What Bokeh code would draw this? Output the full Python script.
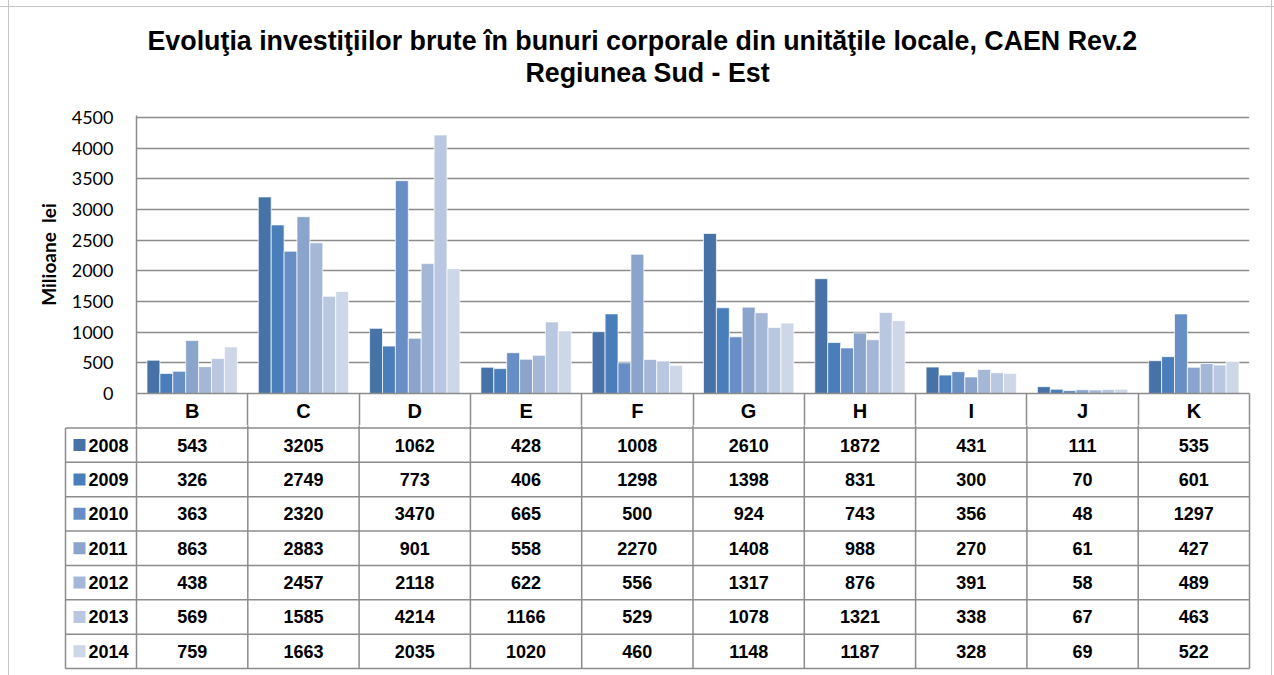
from bokeh.plotting import figure
from bokeh.models import Range1d, FixedTicker, Title, ColumnDataSource
from bokeh.core.properties import value
from bokeh.embed import file_html
from bokeh.resources import INLINE

# ---------------- data ----------------
categories = ["B", "C", "D", "E", "F", "G", "H", "I", "J", "K"]
years = ["2008", "2009", "2010", "2011", "2012", "2013", "2014"]
v2008 = [543, 3205, 1062, 428, 1008, 2610, 1872, 431, 111, 535]
v2009 = [326, 2749, 773, 406, 1298, 1398, 831, 300, 70, 601]
v2010 = [363, 2320, 3470, 665, 500, 924, 743, 356, 48, 1297]
v2011 = [863, 2883, 901, 558, 2270, 1408, 988, 270, 61, 427]
v2012 = [438, 2457, 2118, 622, 556, 1317, 876, 391, 58, 489]
v2013 = [569, 1585, 4214, 1166, 529, 1078, 1321, 338, 67, 463]
v2014 = [759, 1663, 2035, 1020, 460, 1148, 1187, 328, 69, 522]
series = [v2008, v2009, v2010, v2011, v2012, v2013, v2014]
y_ticks = [0, 500, 1000, 1500, 2000, 2500, 3000, 3500, 4000, 4500]
y_max = 4500
colors = ["#4672a8", "#4a7ebb", "#678fc5", "#8aa4cc", "#a5b7d7", "#bac7e0", "#cdd7e8"]

title_line1 = "Evoluţia investiţiilor brute în bunuri corporale din unităţile locale, CAEN Rev.2"
title_line2 = "Regiunea Sud - Est"
y_label = "Milioane\u00a0\u00a0lei"

# ---------------- layout constants (page pixels) ----------------
W = 1274
plot_left, plot_right = 136, 1249      # chart plot area
plot_top, plot_zero = 117, 393         # y of 4500 and of 0
header_bottom = 425
table_bottom = 668
n = len(years)
ncat = len(categories)
U = (plot_right - plot_left) / ncat          # px per category column
PPU = (plot_zero - plot_top) / y_max         # px per value unit
R = (table_bottom - plot_zero) / (n + 1)     # px per table row
HDR = header_bottom - plot_zero              # header strip height

GRID = "#8c8c8c"
TFONT = "Liberation Sans"
BORDER_CSS = ("linear-gradient(to right, transparent 8px, #c4c4c4 8px, #c4c4c4 9px, transparent 9px,"
              " transparent 1271px, #c4c4c4 1271px, #c4c4c4 1272px, transparent 1272px)")

# ---------------- top figure: bars + category header ----------------
f_top = 115
y_end = y_max + (plot_top - f_top) / PPU

p = figure(width=W, height=header_bottom, output_backend="svg", toolbar_location=None,
           x_range=Range1d(0, ncat), y_range=Range1d(0, y_end),
           x_axis_location="below", y_axis_location="left")
p.min_border_left = plot_left
p.min_border_right = W - plot_right
p.min_border_top = f_top
p.min_border_bottom = HDR
p.outline_line_color = None
p.background_fill_color = "white"
p.border_fill_color = None
p.styles = {"background-image": BORDER_CSS + ", linear-gradient(to bottom, transparent 6px, #c4c4c4 6px, #c4c4c4 7px, transparent 7px)",
            "background-color": "white"}

# y axis
p.yaxis.ticker = FixedTicker(ticks=y_ticks)
p.yaxis.minor_tick_line_color = None
p.yaxis.major_tick_out = 0
p.yaxis.major_tick_in = 0
p.yaxis.axis_line_color = GRID
p.yaxis.axis_line_width = 1.5
p.yaxis.major_label_standoff = 23
p.yaxis.major_label_text_font = "Lato"
p.yaxis.major_label_text_font_size = "18px"
p.yaxis.major_label_text_color = "black"
p.yaxis.axis_label = y_label
p.yaxis.axis_label_text_font = "Lato"
p.yaxis.axis_label_text_font_style = "bold"
p.yaxis.axis_label_text_font_size = "19px"
p.yaxis.axis_label_text_color = "black"
p.yaxis.axis_label_standoff = 9

# x axis = header row of the data table
cat_centers = [i + 0.5 for i in range(ncat)]
p.xaxis.ticker = FixedTicker(ticks=cat_centers, minor_ticks=list(range(ncat + 1)))
p.xaxis.major_label_overrides = {c: lab for c, lab in zip(cat_centers, categories)}
p.xaxis.major_tick_out = 0
p.xaxis.major_tick_in = 0
p.xaxis.minor_tick_in = 0
p.xaxis.minor_tick_out = HDR
p.xaxis.minor_tick_line_color = GRID
p.xaxis.minor_tick_line_width = 1.5
p.xaxis.axis_line_color = GRID
p.xaxis.axis_line_width = 1.5
p.xaxis.major_label_standoff = 6 - HDR
p.xaxis.major_label_text_font = TFONT
p.xaxis.major_label_text_font_style = "bold"
p.xaxis.major_label_text_font_size = "20px"
p.xaxis.major_label_text_color = "black"

p.xgrid.grid_line_color = None
p.ygrid.grid_line_color = GRID
p.ygrid.grid_line_width = 1.5

bw = 12.9 / U
for j, (yr, vals) in enumerate(zip(years, series)):
    xs = [i + 0.5 + (j - (n - 1) / 2) * bw for i in range(ncat)]
    src = ColumnDataSource(dict(x=xs, top=vals))
    p.vbar(x="x", top="top", bottom=0, width=bw, source=src,
           fill_color=colors[j], line_color="white", line_width=1, line_alpha=0.7)

# titles (stacked outward from the plot area)
p.add_layout(Title(text=" ", text_font_size="10px", standoff=15), "above")
p.add_layout(Title(text=title_line2, align="left", offset=389, standoff=0,
                   text_font="Liberation Sans", text_font_size="26.8px",
                   text_font_style="bold", text_color="black"), "above")
p.add_layout(Title(text=title_line1, align="left", offset=11, standoff=0,
                   text_font="Liberation Sans", text_font_size="26.8px",
                   text_font_style="bold", text_color="black"), "above")

# ---------------- bottom figure: data table body ----------------
fl, fr = 60, 1252
fb = 670
H2 = 675 - header_bottom
tx0 = (fl - plot_left) / U
tx1 = (fr - plot_left) / U
ty_top = (header_bottom - plot_zero) / R
ty_bot = (fb - plot_zero) / R

t = figure(width=W, height=H2, output_backend="svg", toolbar_location=None,
           x_range=Range1d(tx0, tx1), y_range=Range1d(ty_bot, ty_top),
           x_axis_location=None, y_axis_location=None)
t.min_border_left = fl
t.min_border_right = W - fr
t.min_border_top = 0
t.min_border_bottom = H2 - (fb - header_bottom)
t.outline_line_color = None
t.xgrid.grid_line_color = None
t.ygrid.grid_line_color = None
t.border_fill_color = None
t.styles = {"background-image": BORDER_CSS, "background-color": "white"}

legend_left = (65 - plot_left) / U
hy = list(range(1, n + 2))
t.segment(x0=[legend_left] * len(hy), x1=[ncat] * len(hy), y0=hy, y1=hy,
          line_color=GRID, line_width=1.5)
vx = list(range(ncat + 1))
t.segment(x0=vx, x1=vx, y0=[0] * len(vx), y1=[n + 1] * len(vx),
          line_color=GRID, line_width=1.5)
t.segment(x0=[legend_left], x1=[legend_left], y0=[1], y1=[n + 1],
          line_color=GRID, line_width=1.5)

xs_all, ys_all, tx_all = [], [], []
for j, vals in enumerate(series):
    for i, v in enumerate(vals):
        xs_all.append(i + 0.5)
        ys_all.append(j + 1.5)
        tx_all.append(str(v))
t.text(x=xs_all, y=ys_all, text=tx_all,
       text_font=value(TFONT), text_font_style="bold", text_font_size="18px",
       text_align="center", text_baseline="middle", text_color="black")

sq_x = (79 - plot_left) / U
lab_x = (88 - plot_left) / U
t.scatter(x=[sq_x] * n, y=[j + 1.5 for j in range(n)], marker="square", size=12,
          fill_color=colors, line_color=None)
t.text(x=[lab_x] * n, y=[j + 1.5 for j in range(n)], text=years,
       text_font=value(TFONT), text_font_style="bold", text_font_size="18px",
       text_align="left", text_baseline="middle", text_color="black")

open("out.html", "w").write(file_html([p, t], INLINE))
